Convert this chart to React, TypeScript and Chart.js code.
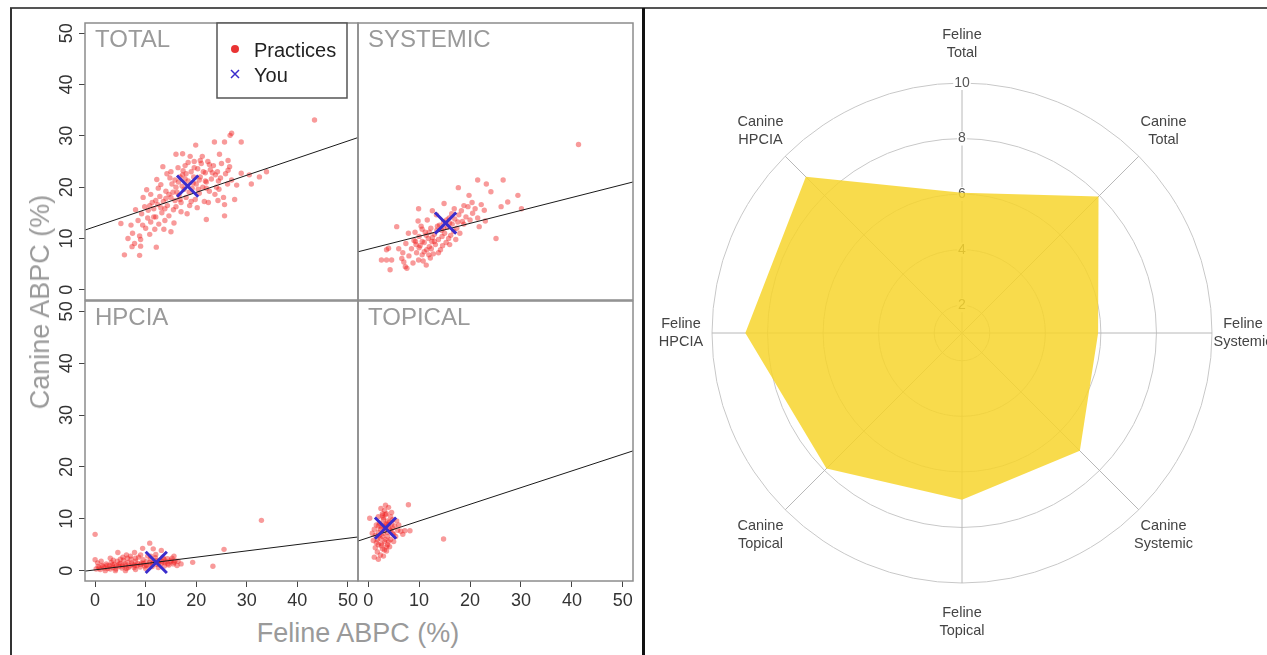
import React, { useEffect, useRef } from 'react';
import { Chart, registerables } from 'chart.js';

Chart.register(...registerables);

const FONT = '"Liberation Sans", Arial, Helvetica, sans-serif';

// ---------- scatter panel data ----------
const axisTicks = [0, 10, 20, 30, 40, 50];
const axisMin = -2;
const axisMax = 52;

const panelNames = ['TOTAL', 'SYSTEMIC', 'HPCIA', 'TOPICAL'];

const totalPractices: [number, number][] = [
  [43.4, 33.1], [27.0, 30.5], [26.7, 30.1], [25.6, 28.8], [23.6, 28.8], [28.9, 28.8], [19.9, 28.2], [17.3, 26.5],
  [33.9, 23.0], [30.9, 20.6], [28.9, 22.7], [26.3, 25.2], [26.3, 23.3], [25.6, 14.4], [22.0, 13.7], [15.0, 11.3],
  [12.1, 8.3], [5.8, 6.8], [8.8, 6.7], [7.3, 8.4], [9.0, 8.5], [5.1, 12.9], [7.1, 12.6], [7.4, 11.0], [8.8, 10.5],
  [9.4, 12.6], [15.0, 23.0],
  [8.5, 13.5], [9.2, 14.8], [10.0, 12.0], [10.5, 15.5], [11.0, 13.2], [11.3, 17.0], [9.8, 16.2], [10.8, 10.8],
  [11.8, 11.8], [12.0, 14.2], [8.0, 15.6], [9.5, 18.0], [10.2, 19.5], [11.6, 15.8], [12.4, 16.6], [11.0, 18.6],
  [12.6, 12.8], [10.4, 14.0],
  [12.8, 18.2], [13.2, 15.0], [13.5, 17.2], [13.8, 13.5], [14.0, 19.2], [14.3, 16.4], [14.6, 14.4], [15.0, 18.0],
  [15.2, 20.6], [15.5, 15.6], [15.8, 17.4], [13.0, 20.5], [12.5, 19.8], [14.8, 21.8], [15.6, 13.0], [13.6, 11.8],
  [14.2, 22.6], [16.0, 16.2], [12.2, 21.5], [13.4, 24.0],
  [16.2, 19.0], [16.5, 21.0], [16.8, 17.6], [17.0, 15.2], [17.3, 22.4], [17.6, 19.6], [17.8, 24.2], [18.0, 18.0],
  [18.4, 21.2], [18.7, 16.4], [19.0, 23.0], [19.2, 19.8], [19.5, 22.0], [19.8, 17.6], [16.4, 23.8], [17.2, 20.2],
  [18.2, 14.8], [19.6, 25.0], [16.0, 26.4], [18.8, 26.0],
  [20.0, 20.6], [20.3, 23.6], [20.6, 18.8], [20.8, 22.0], [21.0, 24.6], [21.3, 20.0], [21.6, 17.2], [21.8, 22.8],
  [22.0, 21.0], [22.3, 25.0], [22.6, 19.2], [22.8, 23.4], [23.0, 21.6], [23.4, 24.2], [23.7, 18.6], [20.2, 16.0],
  [21.2, 26.0], [22.4, 17.0], [23.8, 22.4], [24.0, 20.0],
  [24.2, 23.0], [24.5, 19.6], [24.8, 21.8], [25.0, 24.6], [25.4, 18.0], [25.8, 22.6], [26.2, 20.6], [24.6, 26.4],
  [26.6, 24.0], [27.0, 21.4], [25.6, 16.6], [24.3, 17.4],
  [30.5, 22.4], [32.5, 22.0], [28.0, 20.4], [27.6, 17.6], [9.0, 9.8], [6.5, 10.0], [7.8, 9.0],
  [13.0, 16.0], [14.0, 17.8], [15.4, 19.0], [16.6, 18.4], [17.8, 21.6], [18.6, 19.0], [19.4, 20.8], [20.6, 21.4],
  [21.4, 23.0], [22.0, 19.8], [16.0, 20.0], [17.0, 17.0], [18.0, 22.6], [19.0, 17.2], [20.4, 19.6], [21.8, 21.2],
  [14.6, 18.6], [15.8, 21.4], [13.8, 15.8], [12.0, 17.4], [11.6, 14.2], [10.8, 16.4], [23.2, 22.8], [24.4, 21.2],
  [22.6, 24.4], [20.8, 25.2], [19.6, 23.8], [18.4, 24.8], [17.4, 23.2], [16.8, 22.0],
];

const systemicPractices: [number, number][] = [
  [41.3, 28.3], [26.5, 21.4], [21.5, 21.4], [23.2, 20.6], [17.7, 19.9], [19.8, 18.4], [24.1, 19.1], [29.4, 18.4],
  [27.4, 17.1], [26.1, 16.2], [30.1, 15.8], [9.9, 15.8], [14.9, 16.8], [16.9, 15.8], [5.6, 12.3], [25.1, 10.0],
  [22.8, 15.5], [20.5, 14.9], [18.5, 13.3], [21.8, 12.3], [7.9, 11.0], [9.3, 9.4], [3.6, 7.8], [6.0, 8.0],
  [2.6, 5.8], [4.6, 5.8], [6.6, 6.1], [4.3, 3.9], [7.3, 4.5], [9.9, 5.8], [11.9, 6.8], [4.0, 8.1], [3.6, 5.8],
  [7.6, 4.2],
  [8.5, 8.0], [9.0, 9.6], [9.5, 7.2], [10.0, 10.4], [10.2, 8.6], [10.6, 6.8], [11.0, 9.2], [11.2, 11.2],
  [11.5, 7.8], [11.8, 10.0], [12.0, 8.4], [12.3, 12.0], [12.5, 9.4], [12.8, 7.0], [13.0, 10.8], [13.2, 8.8],
  [13.5, 11.6], [13.8, 9.8], [14.0, 12.6], [14.2, 7.8], [14.5, 10.4], [14.8, 13.2], [15.0, 11.0], [15.3, 9.2],
  [15.6, 12.2], [15.9, 14.0], [16.2, 10.6], [16.5, 12.8], [16.8, 11.4], [17.0, 13.8], [17.4, 12.0], [17.8, 14.6],
  [18.0, 11.0], [18.3, 15.4], [18.8, 12.8], [19.2, 14.2], [19.6, 16.2], [20.0, 13.6], [20.4, 17.0], [21.0, 15.8],
  [21.5, 14.0], [22.2, 16.6], [23.0, 13.4], [10.4, 12.4], [9.2, 11.2], [8.0, 6.6], [7.4, 9.0], [8.8, 5.2],
  [10.8, 5.6], [12.2, 6.2], [6.8, 7.2], [9.8, 13.4], [11.6, 13.6], [13.4, 14.6], [12.6, 15.4], [14.6, 8.6],
  [16.0, 8.8], [17.2, 9.8], [11.4, 4.8], [7.0, 5.4],
  [10.6, 9.4], [11.4, 10.6], [12.6, 10.2], [13.6, 12.4], [14.4, 11.6], [15.4, 13.6], [16.4, 14.8], [12.0, 11.2],
  [10.0, 8.2], [9.4, 8.8], [13.0, 9.4], [14.8, 12.0], [16.0, 13.0], [17.6, 13.2], [18.8, 16.4], [11.0, 7.4],
  [12.4, 8.0], [13.8, 7.2], [15.8, 10.0], [10.6, 11.8],
];

const hpciaPractices: [number, number][] = [
  [0.0, 7.0], [0.0, 2.1], [10.8, 5.3], [4.5, 3.5], [7.8, 3.5], [9.4, 4.3], [13.1, 3.9], [23.3, 0.85], [19.3, 1.6],
  [17.0, 1.3], [25.5, 4.1], [32.9, 9.7], [11.5, 4.2], [6.2, 3.0], [15.6, 2.8],
  [0.2, 0.3], [0.6, 0.8], [1.0, 0.2], [1.4, 1.0], [1.8, 0.5], [2.2, 1.3], [2.5, 0.4], [2.8, 0.9], [3.2, 1.6],
  [3.5, 0.6], [3.8, 1.2], [4.1, 0.3], [4.4, 1.8], [4.7, 0.8], [5.0, 1.4], [5.3, 0.5], [5.6, 2.0], [5.9, 1.0],
  [6.2, 0.4], [6.5, 1.6], [6.8, 0.9], [7.1, 2.2], [7.4, 1.2], [7.7, 0.6], [8.0, 1.8], [8.3, 1.0], [8.6, 2.6],
  [8.9, 0.7], [9.2, 1.5], [9.5, 2.1], [9.8, 0.9], [10.1, 1.7], [10.4, 2.8], [10.7, 1.1], [11.0, 2.2], [11.3, 0.8],
  [11.6, 1.6], [11.9, 2.5], [12.2, 1.2], [12.5, 0.6], [12.8, 2.0], [13.1, 1.4], [13.4, 2.6], [13.7, 0.9],
  [14.0, 1.8], [14.3, 2.3], [14.6, 1.1], [14.9, 1.7], [15.2, 2.4], [15.5, 1.3], [15.8, 1.9], [16.2, 1.0],
  [3.0, 2.4], [1.2, 1.8], [5.5, 2.6], [7.0, 2.8], [9.0, 3.0], [12.0, 3.1], [2.0, 0.0], [4.0, 0.0], [6.0, 0.0],
  [8.0, 0.2], [10.0, 0.4], [0.5, 1.5], [3.6, 2.0], [6.4, 2.4],
  [0.8, 0.5], [1.6, 0.8], [2.4, 1.0], [3.0, 0.3], [3.4, 1.1], [4.2, 0.9], [4.8, 1.3], [5.4, 0.9], [6.0, 1.3],
  [6.6, 0.6], [7.2, 1.5], [7.8, 1.0], [8.4, 1.4], [9.0, 1.2], [9.6, 1.4], [10.2, 1.0], [10.8, 1.6], [11.4, 1.4],
  [12.0, 1.9], [12.6, 1.4], [13.2, 1.8], [13.8, 1.5], [14.4, 1.3], [15.0, 2.0], [15.6, 1.6], [16.4, 1.8],
  [5.0, 2.2], [8.0, 2.4], [11.0, 2.8], [13.6, 2.2],
];

const topicalPractices: [number, number][] = [
  [7.9, 12.7], [14.8, 6.1], [0.3, 10.1], [8.2, 7.7], [7.2, 7.7],
  [2.5, 12.0], [3.2, 11.6], [4.0, 12.2], [3.6, 11.0], [2.8, 10.6], [4.4, 10.4], [3.0, 9.8], [3.8, 9.6],
  [2.2, 9.2], [4.6, 9.0], [1.6, 8.8], [5.2, 8.6], [2.6, 8.4], [3.4, 8.2], [4.2, 8.0], [1.2, 8.0], [5.8, 7.8],
  [6.4, 7.6], [2.0, 7.4], [3.0, 7.2], [4.8, 7.2], [1.4, 6.8], [3.8, 6.6], [2.4, 6.2], [4.4, 6.0], [1.0, 5.8],
  [3.2, 5.6], [2.0, 5.0], [3.8, 5.0], [1.4, 4.4], [2.8, 4.2], [3.6, 3.8], [1.8, 3.6], [2.4, 3.0], [1.2, 2.6],
  [2.0, 2.2], [3.0, 2.8], [4.2, 4.6], [5.0, 5.6], [4.6, 11.2], [3.4, 12.6], [2.0, 10.4], [5.6, 9.6], [4.8, 8.2],
  [1.8, 6.0], [0.8, 7.2], [5.4, 6.6], [6.0, 8.8], [3.6, 4.6], [2.6, 5.2], [3.2, 9.0], [4.0, 8.8], [2.8, 11.0],
  [6.8, 7.0],
  [3.0, 10.2], [3.6, 9.0], [4.2, 9.4], [2.4, 8.0], [3.0, 8.6], [3.8, 7.4], [4.4, 7.8], [2.2, 6.8], [2.8, 6.6],
  [3.4, 6.0], [2.6, 4.8], [3.2, 4.0], [1.6, 5.4], [4.0, 5.6], [3.4, 10.8], [5.0, 7.0], [2.0, 8.6], [4.8, 9.8],
];

const panelPractices = [totalPractices, systemicPractices, hpciaPractices, topicalPractices];

const youPoints: [number, number][] = [[18.3, 20.2], [15.2, 13.0], [12.1, 1.6], [3.4, 8.2]];
const fitIntercepts = [12.3, 7.9, 0.15, 6.35];
const fitSlopes = [0.334, 0.252, 0.122, 0.322];

// ---------- radar data ----------
const radarLabels = [
  ['Feline', 'Total'], ['Canine', 'Total'], ['Feline', 'Systemic'], ['Canine', 'Systemic'],
  ['Feline', 'Topical'], ['Canine', 'Topical'], ['Feline', 'HPCIA'], ['Canine', 'HPCIA'],
];
const radarValues = [6.05, 7.95, 5.9, 7.0, 7.0, 7.9, 8.8, 8.95];
const radarMin = 1;
const radarMax = 10;
const radarStep = 2;

// ---------- plugins ----------
const panelBoxPlugin = {
  id: 'panelBox',
  afterDatasetsDraw(chart: any, _args: any, opts: any) {
    const { ctx, chartArea: a } = chart;
    ctx.save();
    ctx.strokeStyle = '#8c8c8c';
    ctx.lineWidth = 1.5;
    ctx.strokeRect(a.left, a.top, a.right - a.left, a.bottom - a.top);
    ctx.fillStyle = '#9a9a9a';
    ctx.font = `24px ${FONT}`;
    ctx.textAlign = 'left';
    ctx.textBaseline = 'alphabetic';
    ctx.fillText(opts.label, a.left + 10, a.top + 24);
    if (opts.legend) {
      const lx = a.left + 132;
      const ly = a.top;
      ctx.fillStyle = '#ffffff';
      ctx.fillRect(lx, ly, 130, 75);
      ctx.strokeStyle = '#555555';
      ctx.lineWidth = 1.5;
      ctx.strokeRect(lx, ly, 130, 75);
      ctx.fillStyle = 'rgba(232,40,40,0.95)';
      ctx.beginPath();
      ctx.arc(lx + 18, ly + 26, 4, 0, Math.PI * 2);
      ctx.fill();
      ctx.strokeStyle = '#3a2ccc';
      ctx.lineWidth = 1.5;
      ctx.beginPath();
      ctx.moveTo(lx + 14, ly + 47); ctx.lineTo(lx + 22, ly + 55);
      ctx.moveTo(lx + 22, ly + 47); ctx.lineTo(lx + 14, ly + 55);
      ctx.stroke();
      ctx.fillStyle = '#222222';
      ctx.font = `20px ${FONT}`;
      ctx.fillText('Practices', lx + 37, ly + 34);
      ctx.fillText('You', lx + 37, ly + 59);
    }
    ctx.restore();
  },
};

const radarLabelPlugin = {
  id: 'radarPointLabels',
  afterDraw(chart: any) {
    const scale = chart.scales.r;
    const ctx = chart.ctx;
    ctx.save();
    ctx.font = `14.5px ${FONT}`;
    ctx.fillStyle = '#444444';
    ctx.textAlign = 'center';
    ctx.textBaseline = 'middle';
    radarLabels.forEach((lines, i) => {
      const u = scale.getPointPosition(i, 1);
      const dx = u.x - scale.xCenter;
      const dy = u.y - scale.yCenter;
      const dist = 285 + 4 * (Math.abs(dy) - Math.abs(dx));
      const p = scale.getPointPosition(i, dist);
      lines.forEach((t, k) => {
        ctx.fillText(t, p.x, p.y + (k - (lines.length - 1) / 2) * 18);
      });
    });
    ctx.restore();
  },
};

// ---------- configs ----------
function scatterConfig(i: number, showX: boolean, showY: boolean, pad: any) {
  const pts = panelPractices[i].map(([x, y]) => ({ x, y }));
  const fitLine = [axisMin, axisMax].map((x) => ({ x, y: fitIntercepts[i] + fitSlopes[i] * x }));
  return {
    type: 'scatter' as const,
    data: {
      datasets: [
        {
          data: [{ x: youPoints[i][0], y: youPoints[i][1] }],
          pointStyle: 'crossRot',
          pointRadius: 15,
          borderColor: '#3a2ccc',
          borderWidth: 3,
          backgroundColor: 'transparent',
        },
        {
          data: fitLine,
          showLine: true,
          pointRadius: 0,
          borderColor: '#1a1a1a',
          borderWidth: 1,
        },
        {
          data: pts,
          pointRadius: 2.7,
          backgroundColor: 'rgba(240,30,30,0.45)',
          borderWidth: 0,
        },
      ],
    },
    options: {
      animation: false,
      responsive: false,
      maintainAspectRatio: false,
      events: [],
      layout: { padding: pad, autoPadding: false },
      plugins: {
        legend: { display: false },
        tooltip: { enabled: false },
        panelBox: { label: panelNames[i], legend: i === 0 },
      },
      scales: {
        x: {
          type: 'linear',
          min: axisMin,
          max: axisMax,
          display: showX,
          afterBuildTicks: (s: any) => { s.ticks = axisTicks.map((v) => ({ value: v })); },
          afterFit: (s: any) => { if (showX) s.height = 30; s.paddingLeft = 0; s.paddingRight = 0; },
          ticks: { autoSkip: false, maxRotation: 0, minRotation: 0, padding: 3, color: '#333', font: { family: FONT, size: 18 } },
          grid: { drawOnChartArea: false, drawTicks: true, tickLength: 6, color: '#444' },
          border: { display: false },
        },
        y: {
          type: 'linear',
          min: axisMin,
          max: axisMax,
          display: showY,
          afterBuildTicks: (s: any) => { s.ticks = axisTicks.map((v) => ({ value: v })); },
          afterFit: (s: any) => { if (showY) s.width = 45; s.paddingTop = 0; s.paddingBottom = 0; },
          ticks: { autoSkip: false, minRotation: 90, maxRotation: 90, crossAlign: 'center', padding: 1.5, color: '#333', font: { family: FONT, size: 18 } },
          grid: { drawOnChartArea: false, drawTicks: true, tickLength: 6, color: '#444' },
          border: { display: false },
        },
      },
    },
    plugins: [panelBoxPlugin],
  };
}

const RADAR_LEFT = 645;
const RADAR_TOP = 10;

function radarConfig() {
  return {
    type: 'radar' as const,
    data: {
      labels: radarLabels,
      datasets: [
        {
          data: radarValues,
          backgroundColor: 'rgba(247,213,45,0.85)',
          borderWidth: 0,
          pointRadius: 0,
          fill: 'start',
        },
      ],
    },
    options: {
      animation: false,
      responsive: false,
      maintainAspectRatio: false,
      events: [],
      plugins: { legend: { display: false }, tooltip: { enabled: false } },
      scales: {
        r: {
          min: radarMin,
          max: radarMax,
          afterFit: (s: any) => {
            s.xCenter = 962 - RADAR_LEFT;
            s.yCenter = 333 - RADAR_TOP;
            s.drawingArea = 250;
          },
          ticks: {
            stepSize: radarStep,
            color: '#555',
            font: { family: FONT, size: 14 },
            showLabelBackdrop: true,
            backdropColor: '#ffffff',
            backdropPadding: { x: 1, y: 0 },
            callback: (v: number) => (v === radarMin ? '' : String(v)),
          },
          grid: { circular: true, color: '#c8c8c8', lineWidth: 1 },
          angleLines: { color: '#b8b8b8', lineWidth: 1 },
          pointLabels: { display: false },
        },
      },
    },
    plugins: [radarLabelPlugin],
  };
}

function ChartCanvas(props: { left: number; top: number; width: number; height: number; make: () => any }) {
  const ref = useRef<HTMLCanvasElement>(null);
  useEffect(() => {
    const chart = new Chart(ref.current as HTMLCanvasElement, props.make());
    return () => chart.destroy();
  }, []);
  return (
    <canvas
      ref={ref}
      width={props.width}
      height={props.height}
      style={{ position: 'absolute', left: props.left, top: props.top, width: props.width, height: props.height }}
    />
  );
}

const panels = [
  { i: 0, left: 40, top: 15, width: 325, height: 290, showX: false, showY: true, pad: { left: 0, top: 8, right: 7, bottom: 5 } },
  { i: 1, left: 350, top: 15, width: 290, height: 290, showX: false, showY: false, pad: { left: 8, top: 8, right: 7, bottom: 5 } },
  { i: 2, left: 40, top: 296, width: 325, height: 319, showX: true, showY: true, pad: { left: 0, top: 5, right: 7, bottom: 4 } },
  { i: 3, left: 350, top: 296, width: 290, height: 319, showX: true, showY: false, pad: { left: 8, top: 5, right: 7, bottom: 4 } },
];

export default function App() {
  return (
    <div style={{ position: 'absolute', left: 0, top: 0, width: 1267, height: 655, overflow: 'hidden', background: '#fff', fontFamily: FONT }}>
      {/* frames */}
      <div style={{ position: 'absolute', left: 10, top: 7, width: 1257, height: 1.5, background: '#555' }} />
      <div style={{ position: 'absolute', left: 10, top: 8, width: 2, height: 647, background: '#333' }} />
      <div style={{ position: 'absolute', left: 642, top: 8, width: 2.5, height: 647, background: '#111' }} />

      {panels.map((p) => (
        <ChartCanvas
          key={p.i}
          left={p.left}
          top={p.top}
          width={p.width}
          height={p.height}
          make={() => scatterConfig(p.i, p.showX, p.showY, p.pad)}
        />
      ))}

      <div
        style={{
          position: 'absolute', left: 40, top: 302, transform: 'translate(-50%, -50%) rotate(-90deg)',
          whiteSpace: 'nowrap', fontSize: 27, color: '#9a9a9a', lineHeight: '30px',
        }}
      >
        Canine ABPC (%)
      </div>
      <div
        style={{
          position: 'absolute', left: 358, top: 633, transform: 'translate(-50%, -50%)',
          whiteSpace: 'nowrap', fontSize: 27, color: '#9a9a9a', lineHeight: '30px',
        }}
      >
        Feline ABPC (%)
      </div>

      <ChartCanvas left={RADAR_LEFT} top={RADAR_TOP} width={622} height={645} make={radarConfig} />
    </div>
  );
}
